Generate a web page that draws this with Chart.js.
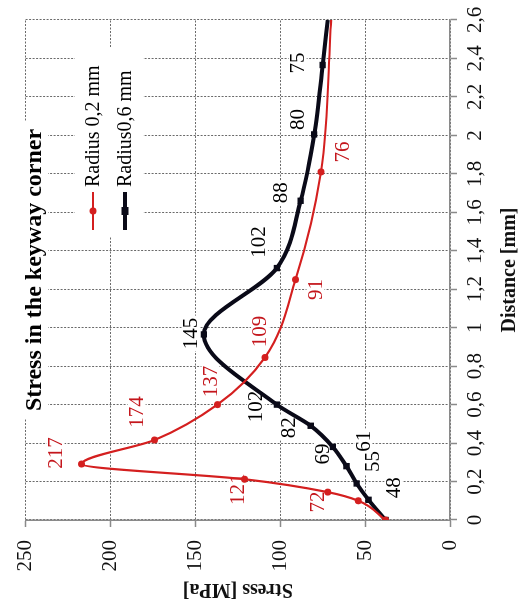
<!DOCTYPE html>
<html>
<head>
<meta charset="utf-8">
<script src="https://cdn.jsdelivr.net/npm/chart.js@4.4.1/dist/chart.umd.min.js"></script>
<style>
  html, body { margin: 0; padding: 0; background: #fff; width: 520px; height: 616px; overflow: hidden; }
  /* the chart is laid out landscape and turned a quarter turn counter-clockwise */
  #wrap { position: absolute; left: 0; top: 0; width: 616px; height: 520px;
          transform-origin: 0 0; transform: translate(0, 616px) rotate(-90deg); background: #fff; }
  canvas { display: block; }
</style>
</head>
<body>
<div id="wrap"><canvas id="c" width="616" height="520"></canvas></div>
<script>
// Distance along the keyway wall [mm] and stress [MPa]
const r02Distance = [0, 0.1, 0.145, 0.212, 0.291, 0.416, 0.6, 0.845, 1.25, 1.81, 2.6];
const r02Stress   = [38, 54, 72, 121, 217, 174, 137, 109, 91, 76, 70];
const r02Labels   = [null, null, '72', '121', '217', '174', '137', '109', '91', '76', null];

const r06Distance = [0, 0.105, 0.19, 0.28, 0.38, 0.49, 0.6, 0.965, 1.31, 1.66, 2.005, 2.366, 2.6];
const r06Stress   = [38, 48, 55, 61, 69, 82, 102, 145, 102, 88, 80, 75, 72];
const r06Labels   = [null, '48', '55', '61', '69', '82', '102', '145', '102', '88', '80', '75', null];

const seriesNames = ['Radius 0,2 mm', 'Radius0,6 mm'];
const chartTitle = 'Stress in the keyway corner';
const xAxisTitle = 'Distance [mm]';
const yAxisTitle = 'Stress [MPa]';

// label placement relative to each point, in pixels
const r02LabelOffsets = [null, null, [-10, -10], [-10, -7], [11, -26], [28, -18], [23, -7], [26, -5], [-10, 20], [20, 22], null];
const r06LabelOffsets = [null, [12, 25], [22, 16], [25, 17], [-7, -10], [-2, -22], [-2, -21], [1, -13], [26, -18], [8, -20], [15, -17], [2, -25], null];

const SERIF = '"Liberation Serif", "Times New Roman", serif';
const RED = '#d41f1f';
const RED_TEXT = '#c4161c';
const DARK = '#0a0a18';

const toPoints = (xs, ys) => xs.map((x, i) => ({ x: x, y: ys[i] }));
const fmtComma = v => String(Math.round(v * 10) / 10).replace('.', ',');

const plotText = {
  id: 'plotText',
  beforeDatasetsDraw(chart) {
    const ctx = chart.ctx;
    ctx.save();
    ctx.font = '21px ' + SERIF;
    ctx.textAlign = 'center';
    ctx.textBaseline = 'middle';
    chart.data.datasets.forEach((ds, di) => {
      const meta = chart.getDatasetMeta(di);
      ds.valueLabels.forEach((t, i) => {
        if (!t) return;
        const p = meta.data[i];
        const off = ds.labelOffsets[i];
        const x = p.x + off[0], y = p.y + off[1];
        const w = ctx.measureText(t).width;
        ctx.fillStyle = '#fff';
        ctx.fillRect(x - w / 2 - 2, y - 9, w + 4, 18);
        ctx.fillStyle = ds.labelColor;
        ctx.fillText(t, x, y + 1);
      });
    });
    ctx.restore();
  },
  afterDraw(chart) {
    const ctx = chart.ctx;
    const area = chart.chartArea;
    ctx.save();
    // title inside the plot, on a white box
    ctx.font = 'bold 24px ' + SERIF;
    const cx = (area.left + area.right) / 2;
    const tw = ctx.measureText(chartTitle).width;
    ctx.fillStyle = '#fff';
    ctx.fillRect(cx - tw / 2 - 8, 14, tw + 16, 34);
    ctx.fillStyle = '#000';
    ctx.textAlign = 'center';
    ctx.textBaseline = 'alphabetic';
    ctx.fillText(chartTitle, cx, 41);

    // legend box
    ctx.fillStyle = '#fff';
    ctx.fillRect(379, 75, 190, 68);
    const rows = [93, 125];
    chart.data.datasets.forEach((ds, i) => {
      const y = rows[i];
      ctx.strokeStyle = ds.borderColor;
      ctx.lineWidth = ds.borderWidth;
      ctx.beginPath();
      ctx.moveTo(386, y);
      ctx.lineTo(424, y);
      ctx.stroke();
      ctx.fillStyle = ds.borderColor;
      if (ds.pointStyle === 'rect') {
        ctx.fillRect(401, y - 3.5, 8, 7);
      } else {
        ctx.beginPath();
        ctx.arc(405, y, 3.5, 0, Math.PI * 2);
        ctx.fill();
      }
      ctx.fillStyle = '#000';
      ctx.font = '20px ' + SERIF;
      ctx.textAlign = 'left';
      ctx.textBaseline = 'middle';
      ctx.fillText(ds.label, 429, y + 1);
    });
    ctx.restore();
  }
};

const gridCommon = {
  color: '#6a6a6a',
  lineWidth: 1,
  tickLength: 7,
  tickColor: '#8a8a8a',
  tickWidth: 1.5,
  tickBorderDash: []
};

new Chart(document.getElementById('c'), {
  type: 'line',
  data: {
    datasets: [
      {
        label: seriesNames[0],
        data: toPoints(r02Distance, r02Stress),
        valueLabels: r02Labels,
        labelOffsets: r02LabelOffsets,
        labelColor: RED_TEXT,
        borderColor: RED,
        backgroundColor: RED,
        borderWidth: 2.2,
        pointStyle: 'circle',
        pointRadius: c => (c.dataIndex === r02Distance.length - 1 ? 0 : 3.5),
        pointBorderWidth: 0,
        cubicInterpolationMode: 'monotone',
        fill: false
      },
      {
        label: seriesNames[1],
        data: toPoints(r06Distance, r06Stress),
        valueLabels: r06Labels,
        labelOffsets: r06LabelOffsets,
        labelColor: '#000',
        borderColor: DARK,
        backgroundColor: DARK,
        borderWidth: 4,
        pointStyle: 'rect',
        pointRadius: c => (c.dataIndex === r06Distance.length - 1 ? 0 : 4.5),
        pointBorderWidth: 0,
        cubicInterpolationMode: 'monotone',
        fill: false
      }
    ]
  },
  options: {
    responsive: false,
    animation: false,
    devicePixelRatio: 1,
    layout: { padding: { left: 0, top: 20, right: 20, bottom: 0 } },
    plugins: { legend: { display: false }, title: { display: false }, tooltip: { enabled: false } },
    scales: {
      x: {
        type: 'linear',
        min: 0,
        max: 2.6,
        afterFit(s) { s.height = 70; },
        ticks: {
          stepSize: 0.2,
          autoSkip: false,
          maxRotation: 0,
          padding: 6,
          color: '#111',
          font: { family: SERIF, size: 21 },
          callback: v => fmtComma(v)
        },
        grid: gridCommon,
        border: { display: true, color: '#8a8a8a', width: 1.5, dash: [2, 1.5] },
        title: {
          display: true,
          text: xAxisTitle,
          color: '#111',
          font: { family: SERIF, size: 20, weight: 'bold', lineHeight: 1 },
          padding: { top: 0, bottom: 0 }
        }
      },
      y: {
        type: 'linear',
        min: 0,
        max: 250,
        afterFit(s) { s.width = 96; },
        ticks: {
          stepSize: 50,
          padding: 13,
          color: '#111',
          font: { family: SERIF, size: 21 }
        },
        grid: gridCommon,
        border: { display: true, color: '#8a8a8a', width: 1.5, dash: [2, 1.5] },
        title: {
          display: true,
          text: yAxisTitle,
          color: '#111',
          font: { family: SERIF, size: 20, weight: 'bold', lineHeight: 1.2 },
          padding: { top: 15, bottom: 0 }
        }
      }
    }
  },
  plugins: [plotText]
});
</script>
</body>
</html>
